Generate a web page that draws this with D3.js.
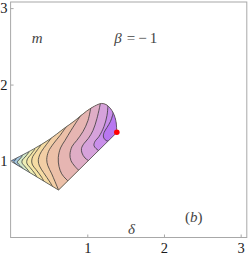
<!DOCTYPE html>
<html>
<head>
<meta charset="utf-8">
<script src="https://cdn.jsdelivr.net/npm/d3@7"></script>
<style>
  body { margin: 0; background: #fff; }
  svg text { font-family: "Liberation Serif", "DejaVu Serif", serif; }
</style>
</head>
<body>
<div id="chart"></div>
<script>
// tick values
var xTicks = [1, 2, 3],
    yTicks = [1, 2, 3];

// boundary of the allowed region (delta, m)
var upperEdge = [[0, 1], [0.296, 1.155], [0.514, 1.288], [0.687, 1.419], [0.840, 1.530], [0.992, 1.654],
    [1.123, 1.733], [1.185, 1.753], [1.244, 1.739], [1.296, 1.694], [1.342, 1.622], [1.372, 1.530],
    [1.382, 1.439], [1.385, 1.373]];
var bottomCorner = [0.625, 0.621];
var redPoint = [1.385, 1.376];

// contour lines, lower end -> upper end
var contour1 = [[0.116, 0.916], [0.090, 0.944], [0.047, 0.978], [0.039, 0.987], [0.051, 1.003], [0.077, 1.033]];
var contour2 = [[0.168, 0.883], [0.145, 0.919], [0.103, 0.961], [0.087, 0.984], [0.099, 1.007], [0.123, 1.029], [0.155, 1.072]];
var contour3 = [[0.253, 0.837], [0.231, 0.876], [0.181, 0.935], [0.149, 0.977], [0.153, 1.014], [0.188, 1.050], [0.240, 1.118]];
var contour4 = [[0.344, 0.785], [0.318, 0.833], [0.253, 0.916], [0.216, 0.961], [0.210, 0.994], [0.224, 1.036], [0.253, 1.072], [0.318, 1.157]];
var contour5 = [[0.435, 0.732], [0.405, 0.788], [0.331, 0.889], [0.286, 0.948], [0.275, 1.001], [0.289, 1.059], [0.318, 1.103], [0.396, 1.210]];
var contour6 = [[0.553, 0.654], [0.514, 0.723], [0.429, 0.850], [0.377, 0.935], [0.361, 1.001], [0.381, 1.086], [0.426, 1.160], [0.527, 1.295]];
var contour7 = [[0.644, 0.575], [0.579, 0.732], [0.536, 0.833], [0.485, 0.942], [0.471, 1.020], [0.494, 1.125], [0.557, 1.225], [0.644, 1.334], [0.740, 1.470]];
var contour8 = [[0.787, 0.706], [0.722, 0.765], [0.666, 0.833], [0.631, 0.929], [0.622, 1.046], [0.651, 1.171], [0.709, 1.269], [0.787, 1.399], [0.892, 1.563], [0.931, 1.622]];
var contour9 = [[0.918, 0.850], [0.840, 0.929], [0.787, 1.007], [0.774, 1.086], [0.801, 1.190], [0.862, 1.269], [0.944, 1.386], [1.009, 1.530], [1.048, 1.713]];
var contour10 = [[1.035, 0.994], [0.970, 1.040], [0.931, 1.105], [0.924, 1.164], [0.957, 1.229], [1.013, 1.295], [1.074, 1.399], [1.126, 1.556], [1.179, 1.792]];
var contour11 = [[1.166, 1.125], [1.113, 1.164], [1.087, 1.203], [1.100, 1.256], [1.153, 1.321], [1.218, 1.452], [1.257, 1.596], [1.270, 1.726], [1.276, 1.792]];
var contour12 = [[1.296, 1.256], [1.244, 1.269], [1.211, 1.314], [1.218, 1.373], [1.257, 1.439], [1.302, 1.517], [1.329, 1.596], [1.348, 1.687]];
var contours = [contour1, contour2, contour3, contour4, contour5, contour6, contour7, contour8, contour9, contour10, contour11, contour12];

// band fill colours, tip -> right
var bandColors = ["#6f97c9", "#a6c8e0", "#d3e8c8", "#eeeeb5", "#f6e6a6", "#f5dba3", "#f2cea5",
    "#ecc0a8", "#e6b5b2", "#dfadc6", "#d6a2db", "#c98fea", "#b877f0"];

var width = 249, height = 256,
    serif = '"Liberation Serif", "DejaVu Serif", serif';

var svg = d3.select("#chart").append("svg")
    .attr("width", width)
    .attr("height", height);

var x = d3.scaleLinear().domain([0, 3.08]).range([10.6, 246.8]);
var y = d3.scaleLinear().domain([0, 3.08]).range([237.5, 2]);

var line = d3.line()
    .x(function (d) { return x(d[0]); })
    .y(function (d) { return y(d[1]); })
    .curve(d3.curveCatmullRom.alpha(0.5));

var regionD = line(upperEdge) + "L" + x(bottomCorner[0]) + "," + y(bottomCorner[1]) + "Z";

svg.append("defs").append("clipPath").attr("id", "region")
    .append("path").attr("d", regionD);

//Filled bands
var bands = svg.append("g").attr("clip-path", "url(#region)");
bands.append("path").attr("d", regionD).attr("fill", bandColors[0]);

contours.forEach(function (c, i) {
    var first = c[0], last = c[c.length - 1];
    var d = line(c) +
        "L" + x(last[0]) + "," + y(4) +
        "L" + x(5) + "," + y(4) +
        "L" + x(5) + "," + y(-1) +
        "L" + x(first[0]) + "," + y(-1) + "Z";
    bands.append("path").attr("d", d).attr("fill", bandColors[i + 1]);
});

//Contour lines
bands.selectAll("path.contour")
    .data(contours)
    .enter().append("path")
    .attr("class", "contour")
    .attr("d", line)
    .attr("fill", "none")
    .attr("stroke", "#383838")
    .attr("stroke-width", 0.8);

//Region outline
svg.append("path").attr("d", regionD)
    .attr("fill", "none")
    .attr("stroke", "#4a4a4a")
    .attr("stroke-width", 0.8);

//Frame
svg.append("rect")
    .attr("x", x(0)).attr("y", y(3.08))
    .attr("width", x(3.08) - x(0)).attr("height", y(0) - y(3.08))
    .attr("fill", "none")
    .attr("stroke", "#a8a8a8")
    .attr("stroke-width", 1);

var xAxis = svg.append("g")
    .attr("transform", "translate(0," + y(0) + ")")
    .call(d3.axisBottom(x).tickValues(xTicks).tickSizeInner(-3).tickSizeOuter(0).tickPadding(5).tickFormat(d3.format("d")));
var yAxis = svg.append("g")
    .attr("transform", "translate(" + x(0) + ",0)")
    .call(d3.axisLeft(y).tickValues(yTicks).tickSizeInner(-3).tickSizeOuter(0).tickPadding(3).tickFormat(d3.format("d")));

[xAxis, yAxis].forEach(function (a) {
    a.attr("font-family", null);
    a.select(".domain").remove();
    a.selectAll(".tick line").attr("stroke", "#a8a8a8");
    a.selectAll(".tick text")
        .attr("fill", "#1a1a1a")
        .style("font-family", serif)
        .style("font-size", "14.5px");
});

//Red critical point
svg.append("circle")
    .attr("cx", x(redPoint[0])).attr("cy", y(redPoint[1]))
    .attr("r", 2.8)
    .attr("fill", "#ff0000");

//Annotations
var labelColor = "#444";
svg.append("text").attr("x", 31.7).attr("y", 43)
    .style("font-family", serif)
    .attr("font-size", 15).attr("font-style", "italic").attr("fill", labelColor)
    .text("m");

var beta = svg.append("text").attr("y", 42.5).attr("font-size", 15).attr("fill", labelColor)
    .style("font-family", serif);
beta.append("tspan").attr("x", 114.3).attr("font-style", "italic").text("β");
beta.append("tspan").attr("x", 126.7).text("=");
beta.append("tspan").attr("x", 138.3).text("−");
beta.append("tspan").attr("x", 149.8).text("1");

var panel = svg.append("text").attr("x", 185).attr("y", 222).attr("font-size", 15).attr("fill", labelColor)
    .style("font-family", serif);
panel.append("tspan").text("(");
panel.append("tspan").attr("font-style", "italic").text("b");
panel.append("tspan").text(")");

svg.append("text").attr("x", 131.5).attr("y", 234)
    .attr("text-anchor", "middle")
    .style("font-family", serif)
    .attr("font-size", 15).attr("font-style", "italic").attr("fill", labelColor)
    .text("δ");
</script>
</body>
</html>
